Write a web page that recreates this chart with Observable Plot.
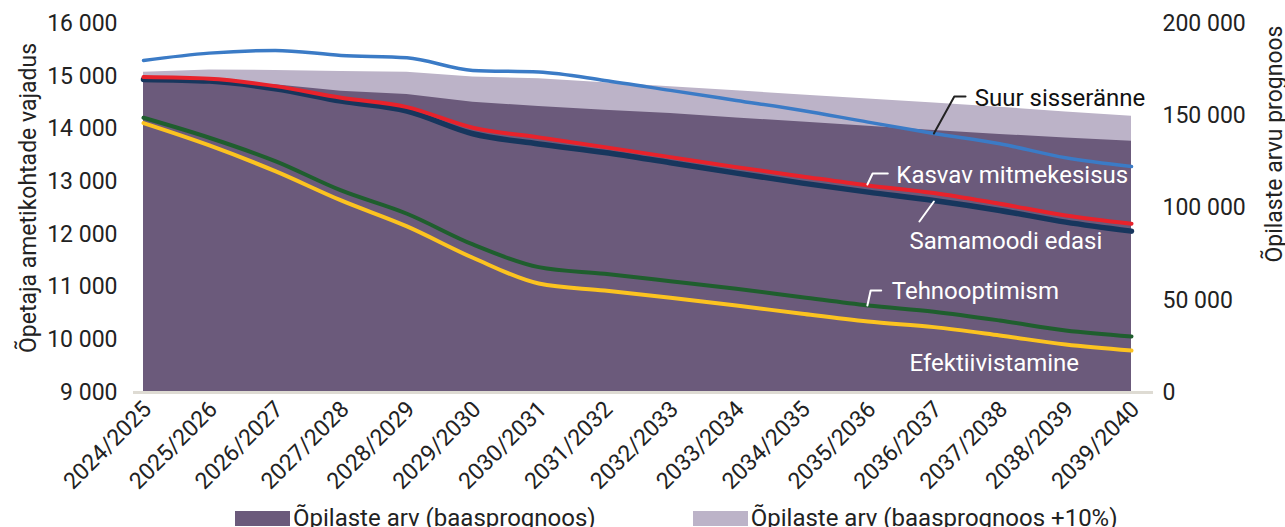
<!DOCTYPE html>
<html>
<head>
<meta charset="utf-8">
<script src="https://cdn.jsdelivr.net/npm/d3@7"></script>
<script src="https://cdn.jsdelivr.net/npm/@observablehq/plot@0.6"></script>
<style>
  body { margin: 0; background: #fff; font-family: Roboto, sans-serif; }
  #chart svg { display: block; }
  #legend { display: flex; align-items: center; padding-left: 235px; margin-top: 5px; font-size: 24px; line-height: 26px; color: #222; }
  .item { display: flex; align-items: center; }
  .sw { width: 55px; height: 15px; margin-right: 3px; }
</style>
</head>
<body>
<div id="chart"></div>
<div id="legend"></div>
<script>
// ---- data ----
const years = ["2024/2025","2025/2026","2026/2027","2027/2028","2028/2029","2029/2030","2030/2031","2031/2032","2032/2033","2033/2034","2034/2035","2035/2036","2036/2037","2037/2038","2038/2039","2039/2040"];

// teacher positions needed (left axis)
const suurSisseranne      = [15300,15438,15490,15395,15350,15110,15078,14920,14731,14541,14351,14129,13915,13719,13453,13288];
const kasvavMitmekesisus  = [14983,14952,14812,14592,14414,14023,13840,13655,13465,13275,13099,12928,12785,12580,12359,12201];
const samamoodiEdasi      = [14939,14907,14763,14528,14338,13909,13715,13554,13359,13161,12972,12801,12643,12454,12232,12061];
const tehnooptimism       = [14212,13833,13389,12833,12391,11808,11378,11252,11112,10968,10808,10651,10533,10366,10176,10063];
const efektiivistamine    = [14110,13687,13199,12643,12150,11556,11068,10935,10797,10651,10493,10347,10240,10082, 9911, 9797];

// student forecast (right axis)
const opilasteBaas   = [168650,167840,166860,163240,161460,157300,154970,152970,151190,148810,146650,144320,142000,139890,138000,136220];
const opilastePluss10= [173510,174760,174590,174050,173510,170970,170110,167890,165730,163510,161300,159140,156920,154590,152050,149730];

const leftTicks  = [9000,10000,11000,12000,13000,14000,15000,16000];
const rightTicks = [0,50000,100000,150000,200000];

const leftTitle  = "Õpetaja ametikohtade vajadus";
const rightTitle = "Õpilaste arvu prognoos";
const legendNames = ["Õpilaste arv (baasprognoos)", "Õpilaste arv (baasprognoos +10%)"];

// series label annotations (data units: category index, teacher positions)
const seriesLabels = [
  {text: "Suur sisseränne",     i: 12.62, v: 14577, color: "#111"},
  {text: "Kasvav mitmekesisus", i: 11.43, v: 13117, color: "#fff"},
  {text: "Samamoodi edasi",     i: 11.63, v: 11864, color: "#fff"},
  {text: "Tehnooptimism",       i: 11.36, v: 10916, color: "#fff"},
  {text: "Efektiivistamine",    i: 11.63, v: 9550,  color: "#fff"}
];
const leadersDark = [
  {id: "suur", i: 12.0,  v: 13913}, {id: "suur", i: 12.31, v: 14615}, {id: "suur", i: 12.48, v: 14615}
];
const leadersLight = [
  {id: "kasvav", i: 10.99, v: 12946}, {id: "kasvav", i: 11.07, v: 13154}, {id: "kasvav", i: 11.30, v: 13154},
  {id: "sama",   i: 12.0,  v: 12623}, {id: "sama",   i: 11.78, v: 12244},
  {id: "tehno",  i: 10.99, v: 10650}, {id: "tehno",  i: 11.04, v: 10935}, {id: "tehno",  i: 11.20, v: 10935}
];

// ---- helpers ----
const yMin = 9000, yMax = 16000, rMax = 200000;
const toLeft  = s => yMin + s * (yMax - yMin) / rMax;
const toRight = v => Math.round((v - yMin) * rMax / (yMax - yMin));
const fmt = n => d3.format(",")(n).replace(/,/g, "\u00a0");
const idx = d3.range(years.length);

const colors = {
  light: "#bcb3c8", dark: "#6b5a7b", base: "#dedbd3",
  blue: "#3b7bc6", red: "#e8222b", navy: "#17365d", green: "#1f5e2e", yellow: "#fcc320"
};

const line = (arr, stroke, w) => Plot.lineY(idx, {x: i => i, y: i => arr[i], stroke, strokeWidth: w, curve: "monotone-x", strokeLinecap: "round"});

const chart = Plot.plot({
  width: 1285,
  height: 500,
  marginLeft: 133,
  marginRight: 132,
  marginTop: 23,
  marginBottom: 108,
  x: {type: "linear", domain: [0, years.length - 1], insetLeft: 10, insetRight: 22},
  y: {domain: [yMin, yMax]},
  style: {fontFamily: "Roboto, sans-serif", fontSize: "23px", color: "#222", background: "#fff"},
  marks: [
    Plot.areaY(idx, {x: i => i, y1: yMin, y2: i => toLeft(opilastePluss10[i]), fill: colors.light}),
    Plot.areaY(idx, {x: i => i, y1: yMin, y2: i => toLeft(opilasteBaas[i]), fill: colors.dark}),
    Plot.ruleY([yMin], {stroke: colors.base, strokeWidth: 3}),
    line(suurSisseranne, colors.blue, 3.5),
    line(efektiivistamine, colors.yellow, 4),
    line(tehnooptimism, colors.green, 4),
    line(samamoodiEdasi, colors.navy, 5.5),
    line(kasvavMitmekesisus, colors.red, 4),
    Plot.line(leadersDark, {x: "i", y: "v", z: "id", stroke: "#222", strokeWidth: 2}),
    Plot.line(leadersLight, {x: "i", y: "v", z: "id", stroke: "#fff", strokeWidth: 2}),
    Plot.text(seriesLabels, {x: "i", y: "v", text: "text", fill: "color", textAnchor: "start", lineAnchor: "middle", fontSize: 24}),
    Plot.axisY({ticks: leftTicks, tickFormat: fmt, tickSize: 0, tickPadding: 16, label: null, fontSize: 23, fill: "#222"}),
    Plot.axisY({anchor: "right", ticks: rightTicks.map(toLeft), tickFormat: v => fmt(toRight(v)), tickSize: 0, tickPadding: 9, label: null, fontSize: 23, fill: "#222"}),
    Plot.axisX({ticks: idx, tickFormat: i => years[i], tickRotate: -45, tickSize: 0, tickPadding: 8, dx: 4, dy: 5, label: null, fontSize: 23, fill: "#222"}),
    Plot.text([leftTitle], {frameAnchor: "left", rotate: -90, dx: -105, dy: -10, fontSize: 23, fill: "#222", textAnchor: "middle"}),
    Plot.text([rightTitle], {frameAnchor: "top-right", rotate: -90, dx: 112, dy: 2, fontSize: 23, fill: "#222", textAnchor: "end"})
  ]
});
document.getElementById("chart").appendChild(chart);

const legendColors = [colors.dark, colors.light];
const leg = document.getElementById("legend");
legendNames.forEach((name, k) => {
  const item = document.createElement("div");
  item.className = "item";
  if (k > 0) item.style.marginLeft = "97px";
  const sw = document.createElement("div");
  sw.className = "sw";
  sw.style.background = legendColors[k];
  const t = document.createElement("span");
  t.textContent = name;
  item.appendChild(sw); item.appendChild(t);
  leg.appendChild(item);
});
</script>
</body>
</html>
